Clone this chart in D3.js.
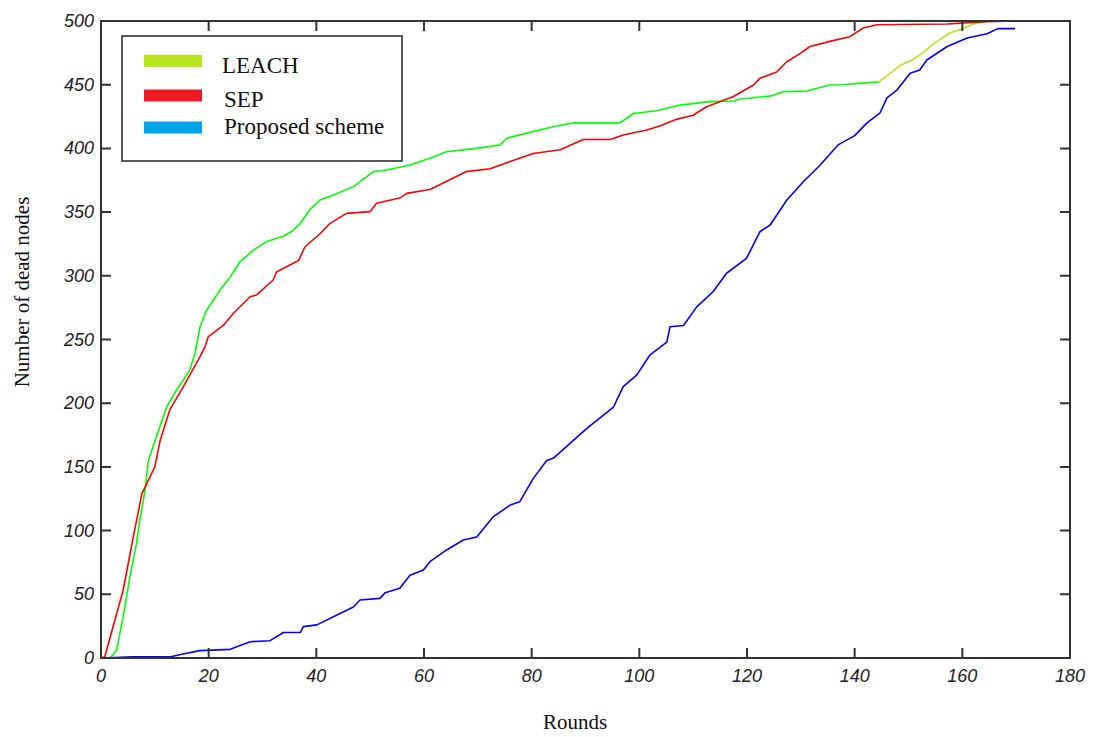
<!DOCTYPE html>
<html lang="en">
<head>
  <meta charset="UTF-8">
  <title>Number of dead nodes vs rounds</title>
  <script src="https://d3js.org/d3.v7.min.js"></script>
  <style>
    body {
      margin: 0;
      padding: 0;
      background-color: #fff;
    }
    .tick-label {
      font-family: "Liberation Sans", Arial, sans-serif;
      font-style: italic;
      font-size: 18px;
      fill: #222;
    }
    .axis-title, .legend-text {
      font-family: "Liberation Serif", "Times New Roman", serif;
      fill: #111;
    }
    .curve {
      fill: none;
      stroke-width: 1.6px;
      stroke-linejoin: round;
    }
  </style>
</head>
<body>
  <div id="chart"></div>

  <script>
    // Data
    const xTicks = [0, 20, 40, 60, 80, 100, 120, 140, 160, 180];
    const yTicks = [0, 50, 100, 150, 200, 250, 300, 350, 400, 450, 500];

    const leachRounds = [0, 1.7, 2.9, 4.1, 5.4, 6.6, 7.2, 8.2, 8.8, 10, 12.2, 14, 16.5, 17.5, 18.4, 19.5, 20.9, 22.5, 24, 25.8,
      28.3, 30.8, 33.9, 35.5, 37, 38.8, 40.7, 43, 46.9, 50.6, 53.1, 57.4, 61, 64.2, 69.8, 74.1, 75.4, 79.1, 84, 87.7,
      92.7, 96.4, 98.9, 103.2, 107.6, 113.1, 117.5, 118.7, 124.3, 126.8, 131.1, 135.4, 137.8, 142.5, 144.5,
      148.4, 150.5, 152.7, 154.6, 157.7, 160, 162, 164.2];
    const leachDead = [0, 0, 6, 32, 64, 90, 108, 132, 155, 170, 197, 210, 226, 240, 260, 272, 281, 291, 299, 311,
      320, 327, 331, 335, 341, 352, 359.5, 363, 370, 381.7, 383, 387, 392, 397.4, 400, 402.7, 408, 412, 417, 420,
      420, 420, 427.4, 429.6, 434, 436.7, 437.2, 438.8, 441, 444.5, 445, 449.8, 450, 451.6, 452,
      465, 469, 475, 482, 490.6, 494, 497.6, 499];
    // after this round the LEACH curve is drawn in the lighter legend green
    const leachLateFrom = 144.5;

    const sepRounds = [0, 0.7, 4.1, 6, 7.6, 10, 11, 12.8, 15.3, 18.4, 19.3, 19.9, 22.7, 24.6, 27.7, 28.9, 32, 32.6, 36.7, 37.9,
      40.7, 42.5, 45.6, 50, 51.2, 55.5, 56.8, 61.1, 67.9, 72.3, 76, 80.3, 85.3, 89.6, 94.6, 97, 101.4, 103.8, 106.9, 110,
      112.5, 117.5, 121.2, 122.4, 125.5, 127.4, 129.9, 131.7, 135.4, 139.1, 141.6, 144.2, 157.2, 164.6, 169.8];
    const sepDead = [0, 1, 53, 95, 129, 150, 171, 195, 213, 236.5, 244, 252, 261, 270.6, 283.6, 285, 296.7, 303, 312, 322.8,
      333, 341, 349, 350.4, 357, 361, 364.7, 367.8, 381.8, 384, 389.7, 396, 399, 407, 407, 410.5, 414.4, 417.6, 422.8, 426,
      432.7, 440.7, 449.8, 455, 460, 468, 474.6, 480, 484, 487.7, 494.5, 497, 497.6, 499.5, 500];

    const propRounds = [0, 6, 13, 15, 18.4, 24, 27.7, 31.4, 33.9, 37, 37.6, 40.1, 44.4, 46.9, 48.1, 51.8, 52.8, 55.5, 57.4, 59.9,
      61.1, 64.2, 67.3, 69.8, 72.9, 76, 77.8, 80.3, 82.8, 84, 90.2, 95.2, 97, 99.5, 102, 105.1, 105.7, 108.2, 110.7, 113.7,
      116.2, 119.9, 122.4, 124.3, 127.4, 130.5, 133.6, 137, 140, 142.3, 144.7, 146, 147.9, 150.3, 152.1, 153.4, 157.2,
      160.9, 164.6, 166.6, 169.8];
    const propDead = [0, 1, 1, 3, 5.8, 6.8, 12.8, 13.6, 20, 20, 24.6, 26, 35, 40, 45.5, 46.8, 51.3, 54.7, 65, 69,
      75.6, 84.8, 92.6, 95, 111, 120, 122.7, 141, 155, 156.7, 180, 197, 213, 222, 238, 248, 260, 261, 275.8, 287.5,
      302, 313.6, 334.6, 339.9, 359.5, 374, 387, 403, 410, 420, 427.8, 439.6, 446, 459, 461.5, 469.4, 480,
      486.6, 490, 494, 494];

    const legendLabels = ['LEACH', 'SEP', 'Proposed scheme'];
    const legendColors = ['#b5e61d', '#ed1c24', '#00a2e8'];

    // Canvas
    const width = 1094;
    const height = 737;
    const margin = { top: 21, right: 24, bottom: 79, left: 101 };

    const svg = d3.select('#chart')
      .append('svg')
      .attr('width', width)
      .attr('height', height);

    const x = d3.scaleLinear().domain([0, 180]).range([margin.left, width - margin.right]);
    const y = d3.scaleLinear().domain([0, 500]).range([height - margin.bottom, margin.top]);

    const x0 = x(0), x1 = x(180), y0 = y(0), y1 = y(500);
    const tickLen = 10;

    // Curves
    const line = d3.line()
      .x(d => x(d[0]))
      .y(d => y(d[1]));

    const zip = (a, b) => a.map((v, i) => [v, b[i]]);
    const leach = zip(leachRounds, leachDead);
    const series = [
      { pts: leach.filter(d => d[0] <= leachLateFrom), color: '#00ff00' },
      { pts: leach.filter(d => d[0] >= leachLateFrom), color: '#b5e61d' },
      { pts: zip(sepRounds, sepDead), color: '#ff0000' },
      { pts: zip(propRounds, propDead), color: '#0000ff' }
    ];

    svg.append('g')
      .selectAll('path')
      .data(series)
      .enter()
      .append('path')
      .attr('class', 'curve')
      .attr('stroke', d => d.color)
      .attr('d', d => line(d.pts));

    // Frame with inward ticks on all four sides
    const frame = svg.append('g')
      .attr('stroke', '#333')
      .attr('stroke-width', 2);

    frame.append('rect')
      .attr('x', x0)
      .attr('y', y1)
      .attr('width', x1 - x0)
      .attr('height', y0 - y1)
      .attr('fill', 'none');

    frame.selectAll('.xt')
      .data(xTicks.slice(1, -1))
      .enter()
      .append('path')
      .attr('d', d => `M${x(d)},${y0}v${-tickLen}M${x(d)},${y1}v${tickLen}`);

    frame.selectAll('.yt')
      .data(yTicks.slice(1, -1))
      .enter()
      .append('path')
      .attr('d', d => `M${x0},${y(d)}h${tickLen}M${x1},${y(d)}h${-tickLen}`);

    // Tick labels
    svg.append('g')
      .selectAll('text')
      .data(xTicks)
      .enter()
      .append('text')
      .attr('class', 'tick-label')
      .attr('x', d => x(d))
      .attr('y', y0 + 24)
      .attr('text-anchor', 'middle')
      .text(d => d);

    svg.append('g')
      .selectAll('text')
      .data(yTicks)
      .enter()
      .append('text')
      .attr('class', 'tick-label')
      .attr('x', x0 - 7)
      .attr('y', d => y(d) + 6)
      .attr('text-anchor', 'end')
      .text(d => d);

    // Axis titles
    svg.append('text')
      .attr('class', 'axis-title')
      .attr('x', 575)
      .attr('y', 729)
      .attr('text-anchor', 'middle')
      .attr('font-size', 21)
      .text('Rounds');

    svg.append('text')
      .attr('class', 'axis-title')
      .attr('transform', 'translate(29,292) rotate(-90)')
      .attr('text-anchor', 'middle')
      .attr('font-size', 21)
      .text('Number of dead nodes');

    // Legend
    const legend = svg.append('g');

    legend.append('rect')
      .attr('x', 122)
      .attr('y', 36)
      .attr('width', 280)
      .attr('height', 125)
      .attr('fill', '#fff')
      .attr('stroke', '#222')
      .attr('stroke-width', 1.5);

    const rowY = [61, 95.5, 127.5];
    const textY = [73, 107, 134];
    const textX = [222, 224, 224];

    legend.selectAll('.sw')
      .data(legendColors)
      .enter()
      .append('rect')
      .attr('x', 144)
      .attr('y', (d, i) => rowY[i] - 6)
      .attr('width', 58)
      .attr('height', 12)
      .attr('fill', d => d);

    legend.selectAll('.lt')
      .data(legendLabels)
      .enter()
      .append('text')
      .attr('class', 'legend-text')
      .attr('x', (d, i) => textX[i])
      .attr('y', (d, i) => textY[i])
      .attr('font-size', 23)
      .text(d => d);
  </script>
</body>
</html>
